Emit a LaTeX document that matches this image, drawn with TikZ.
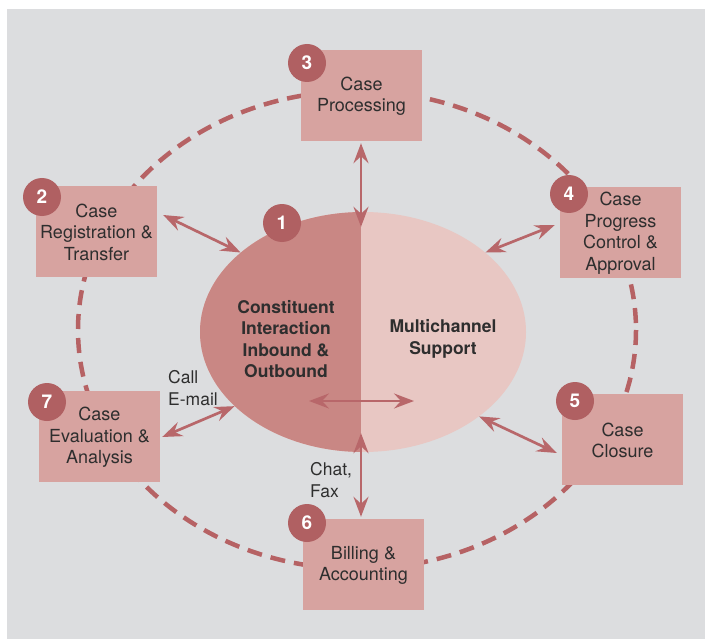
\documentclass[tikz,border=0pt]{standalone}
\usepackage{fontspec}
\setmainfont{TeX Gyre Heros}
\usetikzlibrary{arrows.meta,shapes.geometric}

\definecolor{panel}{HTML}{DCDDDF}
\definecolor{boxpink}{HTML}{D7A3A0}
\definecolor{badgered}{HTML}{B06062}
\definecolor{ringred}{HTML}{B66264}
\definecolor{arrowred}{HTML}{B8676A}
\definecolor{halfdark}{HTML}{C98784}
\definecolor{halflight}{HTML}{E8C7C3}
\definecolor{ink}{HTML}{2E2E2E}

\begin{document}
\begin{tikzpicture}[x=1pt,y=-1pt,
    stage/.style={fill=boxpink,minimum width=121pt,minimum height=91pt,inner sep=0pt,
      align=center,text=ink,font=\fontsize{18}{21.5}\selectfont},
    badge/.style={circle,fill=badgered,minimum size=38pt,inner sep=0pt,
      text=white,font=\fontsize{19}{19}\selectfont\bfseries},
    link/.style={{Stealth[length=20pt,width=15pt,inset=7pt]}-{Stealth[length=20pt,width=15pt,inset=7pt]},
      line width=2.7pt,draw=arrowred},
    ring/.style={draw=ringred,line width=4.5pt,dash pattern=on 15pt off 9pt},
    core text/.style={align=center,text=ink,font=\fontsize{17.5}{21.5}\selectfont\bfseries},
    note/.style={align=left,inner sep=0pt,text=ink,font=\fontsize{17.5}{21.5}\selectfont}]
    \fill[white] (0,0) rectangle (706,639);
    \fill[panel] (7,9) rectangle (705,639);

    % dashed loop behind the stages
    \draw[ring] (357,330) ellipse [x radius=279,y radius=239];

    \node[stage] (process) at (361.5,95.5) {\strut Case\\Processing};
    \node[stage] (register) at (96.5,231.5) {\strut Case\\Registration \&\\Transfer};
    \node[stage] (control) at (620.5,232.5) {\strut Case\\Progress\\Control \&\\Approval};
    \node[stage] (closure) at (622.5,439.5) {\strut Case\\Closure};
    \node[stage] (billing) at (363.5,564.5) {\strut Billing \&\\Accounting};
    \node[stage] (evaluate) at (99.5,436.5) {\strut Case\\Evaluation \&\\Analysis};

    % two-tone centre
    \node[ellipse,minimum width=326pt,minimum height=240pt,inner sep=0pt,fill=halflight,
      path picture={\fill[halfdark] ([xshift=-2pt]path picture bounding box.north)
        rectangle (path picture bounding box.south west);}] (core) at (363,332) {};
    \node[core text] (inbound) at (286,339) {Constituent\\Interaction\\Inbound \&\\Outbound};
    \node[core text] (multi) at (443,339) {Multichannel\\Support};

    \node[badge] (b1) at (282,223) {1};
    \node[badge] (b2) at (42,197) {2};
    \node[badge] (b3) at (307,63) {3};
    \node[badge] (b4) at (569,194) {4};
    \node[badge] (b5) at (575,401) {5};
    \node[badge] (b6) at (307,523) {6};
    \node[badge] (b7) at (47,402) {7};

    \draw[link] ([shift={(-0.5,2)}]process.south) -- ([shift={(-2,15)}]core.north);
    \draw[link] ([shift={(6,-16.5)}]register.east) -- (core.147);
    \draw[link] ([shift={(-5,-7.5)}]control.west) -- (core.33);
    \draw[link] ([shift={(-5,13.5)}]closure.west) -- (core.324);
    \draw[link] ([shift={(-2.5,-2)}]billing.north) -- ([shift={(-2,-19)}]core.south);
    \draw[link] ([shift={(2,0.5)}]evaluate.east) -- (core.210);
    \draw[link] ([shift={(-54,69)}]core.center) -- ([shift={(51,69)}]core.center);

    \node[note,anchor=west] (callmail) at (168,388) {Call\\E-mail};
    \node[note,anchor=west] (chatfax) at (310,480) {Chat,\\Fax};
\end{tikzpicture}
\end{document}
